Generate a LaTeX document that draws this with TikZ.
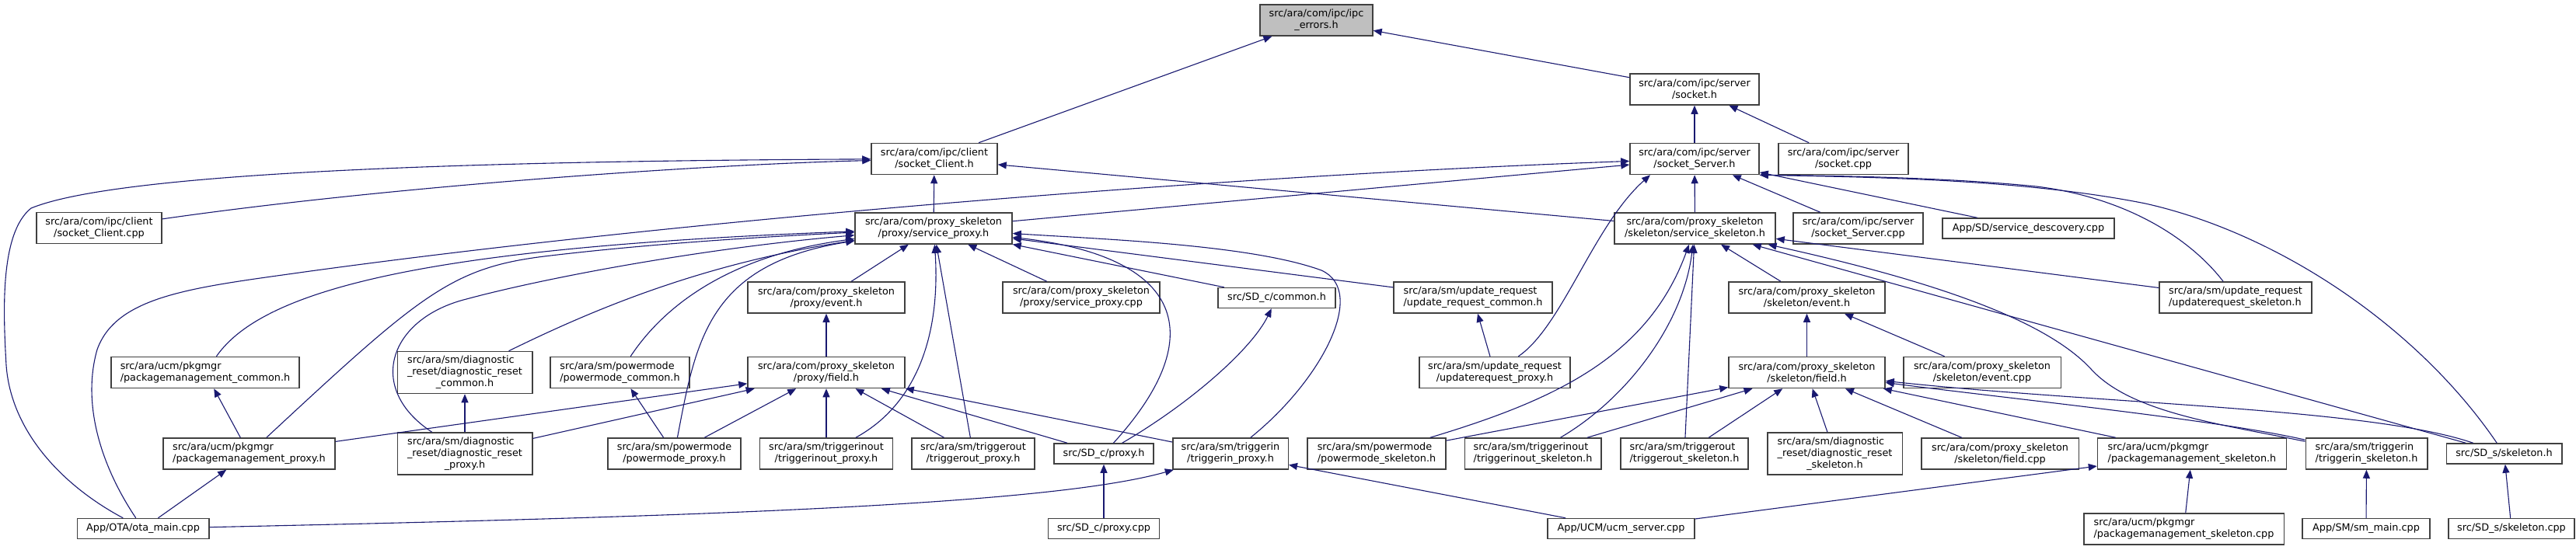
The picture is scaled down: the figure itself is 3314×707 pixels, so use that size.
\documentclass[tikz,border=0pt]{standalone}
\usepackage{fontspec}
\setmainfont{DejaVu Sans}
\usetikzlibrary{arrows.meta}
\definecolor{navyline}{HTML}{191970}

\begin{document}
\begin{tikzpicture}[x=1pt, y=-1pt,
    node/.style={draw=black!75, line width=1.5pt, fill=white, inner xsep=2pt,
                 inner ysep=0pt, minimum height=40pt,
                 font=\fontsize{12.8}{15}\selectfont},
    ctr/.style={node, align=center},
    lft/.style={node, align=left},
    one/.style={node, minimum height=26pt},
    tri/.style={node, minimum height=54pt},
    edge/.style={-{Triangle[length=11pt,width=9pt]}, draw=navyline, line width=1.1pt}
]
\useasboundingbox (0,0) rectangle (3314,707);

% top rows
\node[ctr, fill=black!25, minimum width=145pt] (err) at (1693.5,26) {src/ara/com/ipc/ipc\\\_errors.h};
\node[ctr, minimum width=166pt] (sockh) at (2180,115) {src/ara/com/ipc/server\\/socket.h};
\node[ctr, minimum width=162pt] (cli)   at (1202,204.5) {src/ara/com/ipc/client\\/socket\_Client.h};
\node[ctr, minimum width=166pt] (srv)   at (2180,204.5) {src/ara/com/ipc/server\\/socket\_Server.h};
\node[ctr, minimum width=167pt] (sockcpp) at (2371.5,204.5) {src/ara/com/ipc/server\\/socket.cpp};
\node[ctr, minimum width=161pt] (clicpp) at (127.5,293.5) {src/ara/com/ipc/client\\/socket\_Client.cpp};
\node[ctr, minimum width=202pt] (sproxy) at (1201,294) {src/ara/com/proxy\_skeleton\\/proxy/service\_proxy.h};
\node[ctr, minimum width=207pt] (sskel)  at (2180.5,294) {src/ara/com/proxy\_skeleton\\/skeleton/service\_skeleton.h};
\node[ctr, minimum width=167pt] (srvcpp) at (2390.5,294) {src/ara/com/ipc/server\\/socket\_Server.cpp};
\node[one, minimum width=221pt] (sdisc)  at (2609.5,294) {App/SD/service\_descovery.cpp};

% middle rows
\node[ctr, minimum width=202pt] (pevent) at (1063,383) {src/ara/com/proxy\_skeleton\\/proxy/event.h};
\node[ctr, minimum width=202pt] (spcpp)  at (1391,383) {src/ara/com/proxy\_skeleton\\/proxy/service\_proxy.cpp};
\node[one, minimum width=151pt] (sdccom) at (1642.5,383.5) {src/SD\_c/common.h};
\node[lft, minimum width=204pt] (urcom)  at (1895,383) {src/ara/sm/update\_request\\/update\_request\_common.h};
\node[ctr, minimum width=201pt] (sevent) at (2324.5,383) {src/ara/com/proxy\_skeleton\\/skeleton/event.h};
\node[lft, minimum width=196pt] (urskel) at (2876,383) {src/ara/sm/update\_request\\/updaterequest\_skeleton.h};

\node[lft, minimum width=242pt] (pmcom) at (264,479.5) {src/ara/ucm/pkgmgr\\/packagemanagement\_common.h};
\node[tri, minimum width=173.5pt] (drcom) at (598,479.5) {\begin{tabular}{@{}l@{}}src/ara/sm/diagnostic\\\_reset/diagnostic\_reset\\\multicolumn{1}{@{}c@{}}{\_common.h}\end{tabular}};
\node[lft, minimum width=179pt] (pwcom)   at (797.5,479.5) {src/ara/sm/powermode\\/powermode\_common.h};
\node[ctr, minimum width=202pt] (pfield)  at (1063,479.5) {src/ara/com/proxy\_skeleton\\/proxy/field.h};
\node[ctr, minimum width=194pt] (urproxy) at (1923,479.5) {src/ara/sm/update\_request\\/updaterequest\_proxy.h};
\node[ctr, minimum width=201pt] (sfield)  at (2324.5,479.5) {src/ara/com/proxy\_skeleton\\/skeleton/field.h};
\node[ctr, minimum width=202.5pt] (seventcpp) at (2550,479.5) {src/ara/com/proxy\_skeleton\\/skeleton/event.cpp};

% lower row
\node[lft, minimum width=221pt] (pmproxy) at (320.5,584) {src/ara/ucm/pkgmgr\\/packagemanagement\_proxy.h};
\node[tri, minimum width=173.5pt] (drproxy) at (598,584) {\begin{tabular}{@{}l@{}}src/ara/sm/diagnostic\\\_reset/diagnostic\_reset\\\multicolumn{1}{@{}c@{}}{\_proxy.h}\end{tabular}};
\node[ctr, minimum width=171pt] (pwproxy)  at (867.5,584) {src/ara/sm/powermode\\/powermode\_proxy.h};
\node[ctr, minimum width=171pt] (tioproxy) at (1063,584) {src/ara/sm/triggerinout\\/triggerinout\_proxy.h};
\node[ctr, minimum width=158pt] (toproxy)  at (1252,584) {src/ara/sm/triggerout\\/triggerout\_proxy.h};
\node[one, minimum width=128pt] (sdcproxy) at (1420,584) {src/SD\_c/proxy.h};
\node[ctr, minimum width=148.5pt] (tiproxy) at (1583,584) {src/ara/sm/triggerin\\/triggerin\_proxy.h};
\node[lft, minimum width=178pt] (pwskel)  at (1771,584) {src/ara/sm/powermode\\/powermode\_skeleton.h};
\node[lft, minimum width=175.5pt] (tioskel) at (1972,584) {src/ara/sm/triggerinout\\/triggerinout\_skeleton.h};
\node[lft, minimum width=164pt] (toskel)  at (2167,584) {src/ara/sm/triggerout\\/triggerout\_skeleton.h};
\node[tri, minimum width=173.5pt] (drskel) at (2360.5,584) {\begin{tabular}{@{}l@{}}src/ara/sm/diagnostic\\\_reset/diagnostic\_reset\\\multicolumn{1}{@{}c@{}}{\_skeleton.h}\end{tabular}};
\node[ctr, minimum width=202.5pt] (sfieldcpp) at (2573,584) {src/ara/com/proxy\_skeleton\\/skeleton/field.cpp};
\node[lft, minimum width=243pt] (pmskel)  at (2820,584) {src/ara/ucm/pkgmgr\\/packagemanagement\_skeleton.h};
\node[lft, minimum width=156.5pt] (tiskel) at (3044.5,584) {src/ara/sm/triggerin\\/triggerin\_skeleton.h};
\node[one, minimum width=148.5pt] (sdsskel) at (3221.5,584) {src/SD\_s/skeleton.h};

% bottom row
\node[one, minimum width=169.5pt] (ota)     at (184,680.5) {App/OTA/ota\_main.cpp};
\node[one, minimum width=143pt]   (sdcpcpp) at (1420,680.5) {src/SD\_c/proxy.cpp};
\node[one, minimum width=189pt]   (ucm)     at (2085.5,680.5) {App/UCM/ucm\_server.cpp};
\node[lft, minimum width=257.5pt] (pmskelcpp) at (2809.5,681) {src/ara/ucm/pkgmgr\\/packagemanagement\_skeleton.cpp};
\node[one, minimum width=164pt]   (smmain)  at (3044,680.5) {App/SM/sm\_main.cpp};
\node[one, minimum width=162pt]   (sdsskelcpp) at (3231,680.5) {src/SD\_s/skeleton.cpp};

% ipc
\draw[edge] (cli) -- (err);
\draw[edge] (sockh) -- (err);
\draw[edge] (srv) -- (sockh);
\draw[edge] (sockcpp) -- (sockh);
\draw[edge] (clicpp) .. controls (500,240) and (900,212) .. (cli);
\draw[edge] (ota) .. controls (80,625) and (14,555) .. (8,470) .. controls (4,400) and (0,300) .. (40,268) .. controls (120,235) and (400,208) .. (cli);
\draw[edge] (sproxy) -- (cli);
\draw[edge] (sskel) -- (cli);
\draw[edge] (sproxy) -- (srv);
\draw[edge] (ota) .. controls (130,600) and (105,520) .. (125,450) .. controls (150,380) and (250,370) .. (392,350) .. controls (900,280) and (1600,225) .. (srv);
\draw[edge] (sskel) -- (srv);
\draw[edge] (srvcpp) -- (srv);
\draw[edge] (sdisc) -- (srv);
\draw[edge] (urproxy) .. controls (2010,420) and (2050,290) .. ([xshift=-57pt]srv.south);
\draw[edge] (urskel) .. controls (2820,310) and (2740,255) .. (2620,240) .. controls (2500,228) and (2350,226) .. (srv.south east);
\draw[edge] (sdsskel) .. controls (3110,420) and (2930,300) .. (2760,262) .. controls (2600,230) and (2400,228) .. (srv.south east);

% proxy side
\draw[edge] (pmcom) .. controls (340,370) and (560,318) .. (sproxy);
\draw[edge] (pmproxy) .. controls (540,380) and (580,345) .. (700,330) .. controls (850,312) and (1000,304) .. (sproxy);
\draw[edge] (drproxy) .. controls (470,500) and (500,410) .. (600,385) .. controls (700,358) and (900,320) .. (sproxy);
\draw[edge] (drcom) .. controls (760,400) and (900,340) .. (sproxy);
\draw[edge] (pwcom) .. controls (850,400) and (930,330) .. (sproxy);
\draw[edge] (pwproxy) .. controls (895,440) and (910,340) .. (sproxy);
\draw[edge] (tioproxy) .. controls (1180,520) and (1210,430) .. (sproxy);
\draw[edge] (toproxy) -- (sproxy);
\draw[edge] (pevent) -- (sproxy);
\draw[edge] (spcpp) -- (sproxy);
\draw[edge] (sdccom) -- (sproxy);
\draw[edge] (urcom) -- (sproxy);
\draw[edge] (sdcproxy) .. controls (1560,430) and (1520,330) .. (sproxy);
\draw[edge] (tiproxy) .. controls (1700,490) and (1760,375) .. (1700,348) .. controls (1610,315) and (1420,308) .. (sproxy);
\draw[edge] (pfield) -- (pevent);
\draw[edge] (pmproxy) -- (pmcom);
\draw[edge] (drproxy) -- (drcom);
\draw[edge] (pwproxy) -- (pwcom);
\draw[edge] (pmproxy) -- (pfield);
\draw[edge] (drproxy) -- (pfield);
\draw[edge] (pwproxy) -- (pfield);
\draw[edge] (tioproxy) -- (pfield);
\draw[edge] (toproxy) -- (pfield);
\draw[edge] (sdcproxy) -- (pfield);
\draw[edge] (tiproxy) -- (pfield);
\draw[edge] (sdcproxy) .. controls (1530,520) and (1610,450) .. (sdccom);
\draw[edge] (sdcpcpp) -- (sdcproxy);
\draw[edge] (urproxy) -- (urcom);
\draw[edge] (ota) -- (pmproxy);
\draw[edge] (ota) .. controls (900,665) and (1350,650) .. (tiproxy);
\draw[edge] (ucm) -- (tiproxy);

% skeleton side
\draw[edge] (sevent) -- (sskel);
\draw[edge] (sfield) -- (sevent);
\draw[edge] (seventcpp) -- (sevent);
\draw[edge] (pwskel) .. controls (2000,515) and (2120,460) .. (sskel);
\draw[edge] (tioskel) .. controls (2090,515) and (2165,420) .. (sskel);
\draw[edge] (toskel) -- (sskel);
\draw[edge] (tiskel) .. controls (2850,545) and (2740,530) .. (2690,475) .. controls (2630,410) and (2480,360) .. (sskel);
\draw[edge] (sdsskel) -- (sskel);
\draw[edge] (urskel) -- (sskel);
\draw[edge] (pwskel) -- (sfield);
\draw[edge] (tioskel) -- (sfield);
\draw[edge] (toskel) -- (sfield);
\draw[edge] (drskel) -- (sfield);
\draw[edge] (sfieldcpp) -- (sfield);
\draw[edge] (pmskel) -- (sfield);
\draw[edge] (tiskel) .. controls (2850,540) and (2600,515) .. (sfield);
\draw[edge] (sdsskel) .. controls (3050,525) and (2700,520) .. (sfield);
\draw[edge] (ucm) -- (pmskel);
\draw[edge] (pmskelcpp) -- (pmskel);
\draw[edge] (smmain) -- (tiskel);
\draw[edge] (sdsskelcpp) -- (sdsskel);

\end{tikzpicture}
\end{document}
